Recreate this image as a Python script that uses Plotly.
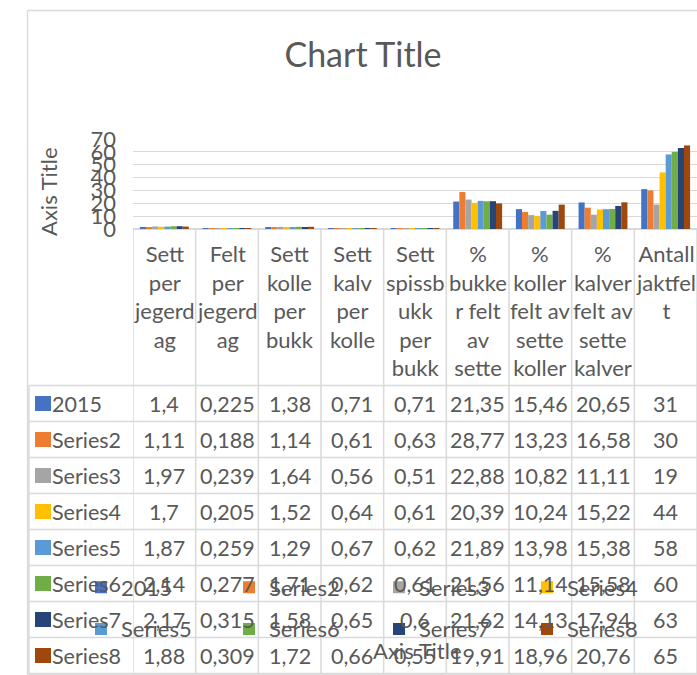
import plotly.graph_objects as go

# ---------------- data ----------------
categories = [
    "Sett per jegerdag", "Felt per jegerdag", "Sett kolle per bukk",
    "Sett kalv per kolle", "Sett spissbukk per bukk", "% bukker felt av sette",
    "% koller felt av sette koller", "% kalver felt av sette kalver", "Antall jaktfelt",
]
header_labels = [
    "Sett<br>per<br>jegerd<br>ag", "Felt<br>per<br>jegerd<br>ag", "Sett<br>kolle<br>per<br>bukk",
    "Sett<br>kalv<br>per<br>kolle", "Sett<br>spissb<br>ukk<br>per<br>bukk", "%<br>bukke<br>r felt<br>av<br>sette",
    "%<br>koller<br>felt av<br>sette<br>koller", "%<br>kalver<br>felt av<br>sette<br>kalver", "Antall<br>jaktfel<br>t",
]
series_names = ["2015", "Series2", "Series3", "Series4", "Series5", "Series6", "Series7", "Series8"]
s2015 = [1.4, 0.225, 1.38, 0.71, 0.71, 21.35, 15.46, 20.65, 31]
series2 = [1.11, 0.188, 1.14, 0.61, 0.63, 28.77, 13.23, 16.58, 30]
series3 = [1.97, 0.239, 1.64, 0.56, 0.51, 22.88, 10.82, 11.11, 19]
series4 = [1.7, 0.205, 1.52, 0.64, 0.61, 20.39, 10.24, 15.22, 44]
series5 = [1.87, 0.259, 1.29, 0.67, 0.62, 21.89, 13.98, 15.38, 58]
series6 = [2.14, 0.277, 1.71, 0.62, 0.61, 21.56, 11.14, 15.58, 60]
series7 = [2.17, 0.315, 1.58, 0.65, 0.6, 21.62, 14.13, 17.94, 63]
series8 = [1.88, 0.309, 1.72, 0.66, 0.55, 19.91, 18.96, 20.76, 65]
all_series = [s2015, series2, series3, series4, series5, series6, series7, series8]
colors = ["#4472C4", "#ED7D31", "#A5A5A5", "#FFC000", "#5B9BD5", "#70AD47", "#264478", "#9E480E"]
y_ticks = [0, 10, 20, 30, 40, 50, 60, 70]

# ---------------- layout geometry (pixels) ----------------
W, H = 697, 675
PL, PR, PT, PB = 133, 697, 139, 229
FONT = "Lato"
TXT = "#595959"
LINE = "#d9d9d9"
FS = 22
FS_CELL = 21.5


def xp(px):
    return (px - PL) / (PR - PL)


def yp(py):
    return (PB - py) / (PB - PT)


# legend laid out as 4 columns x 2 rows (one small legend per column)
legend_ids = ["legend", "legend2", "legend3", "legend4"]
legend_x_px = [81, 229, 379, 527]

fig = go.Figure()
for i, (name, vals) in enumerate(zip(series_names, all_series)):
    fig.add_trace(go.Bar(
        x=categories, y=vals, name=name, marker=dict(color=colors[i], line=dict(width=0)),
        legend=legend_ids[i % 4], legendgroup=name,
    ))

shapes = []
annotations = []

# chart border (right side runs past the window)
shapes.append(dict(type="rect", xref="paper", yref="paper", x0=xp(27.5), x1=xp(720),
                   y0=yp(10.5), y1=yp(674), line=dict(color=LINE, width=1.3)))

# table lines
header_top, header_bot = PB, 385.5
row_h = 36.0
n_rows = len(series_names)
table_bot = header_bot + n_rows * row_h
for k in range(len(categories) + 1):
    shapes.append(dict(type="line", xref="x", yref="paper", x0=k - 0.5, x1=k - 0.5,
                       y0=yp(header_top), y1=yp(table_bot), line=dict(color=LINE, width=1.5)))
for r in range(n_rows + 1):
    yy = header_bot + r * row_h
    shapes.append(dict(type="line", xref="paper", yref="paper", x0=xp(29), x1=xp(720),
                       y0=yp(yy), y1=yp(yy), line=dict(color=LINE, width=1.5)))
shapes.append(dict(type="line", xref="paper", yref="paper", x0=xp(29), x1=xp(29),
                   y0=yp(header_bot), y1=yp(table_bot), line=dict(color=LINE, width=1.5)))

# header labels
for k, lab in enumerate(header_labels):
    annotations.append(dict(xref="x", yref="paper", x=k, y=yp(238), text=lab, showarrow=False,
                            xanchor="center", yanchor="top", align="center",
                            font=dict(family=FONT, size=FS, color=TXT)))


def fmt(v):
    return str(v).replace(".", ",")


# rows
for r, (name, vals) in enumerate(zip(series_names, all_series)):
    cy = header_bot + r * row_h + row_h / 2
    shapes.append(dict(type="rect", xref="paper", yref="paper", x0=xp(35), x1=xp(51),
                       y0=yp(cy - 7.5), y1=yp(cy + 7.5), fillcolor=colors[r], line=dict(width=0)))
    annotations.append(dict(xref="paper", yref="paper", x=xp(50), y=yp(cy), text=name, showarrow=False,
                            xanchor="left", yanchor="middle", font=dict(family=FONT, size=FS_CELL, color=TXT)))
    for k, v in enumerate(vals):
        annotations.append(dict(xref="x", yref="paper", x=k, y=yp(cy), text=fmt(v), showarrow=False,
                                xanchor="center", yanchor="middle",
                                font=dict(family=FONT, size=FS_CELL, color=TXT)))

# axis titles
annotations.append(dict(xref="paper", yref="paper", x=xp(417), y=yp(650), text="Axis Title",
                        showarrow=False, xanchor="center", yanchor="middle",
                        font=dict(family=FONT, size=FS, color=TXT)))
annotations.append(dict(xref="paper", yref="paper", x=xp(48), y=yp(192), text="Axis Title",
                        textangle=-90, showarrow=False, xanchor="center", yanchor="middle",
                        font=dict(family=FONT, size=FS, color=TXT)))

legends = {}
for lid, lx in zip(legend_ids, legend_x_px):
    legends[lid] = dict(orientation="v", xref="container", yref="container", x=lx / W,
                        y=1 - 608.5 / H, xanchor="left", yanchor="middle", itemwidth=30,
                        traceorder="grouped", tracegroupgap=10,
                        bgcolor="rgba(0,0,0,0)", borderwidth=0,
                        font=dict(family=FONT, size=FS, color=TXT))

fig.update_layout(
    width=W, height=H,
    margin=dict(l=PL, r=W - PR, t=PT, b=H - PB, autoexpand=False),
    paper_bgcolor="white", plot_bgcolor="white",
    barmode="group", bargap=0.22, bargroupgap=0,
    showlegend=True,
    title=dict(text="Chart Title", xref="container", yref="container", x=363 / W, y=1 - 55 / H,
               xanchor="center", yanchor="middle", font=dict(family=FONT, size=34, color=TXT)),
    xaxis=dict(type="category", range=[-0.5, len(categories) - 0.5], showticklabels=False,
               showgrid=False, zeroline=False, showline=False, ticks=""),
    yaxis=dict(range=[0, 70], tickvals=y_ticks, showgrid=True, gridcolor=LINE, gridwidth=1.3,
               zeroline=True, zerolinecolor=LINE, zerolinewidth=1.5, showline=False, ticks="",
               ticklabelstandoff=16, tickfont=dict(family=FONT, size=FS, color=TXT)),
    shapes=shapes, annotations=annotations,
    **legends,
)
fig.write_html("out.html", config={"displayModeBar": False},
               post_script="document.body.style.margin='0';document.body.style.overflow='hidden';")
